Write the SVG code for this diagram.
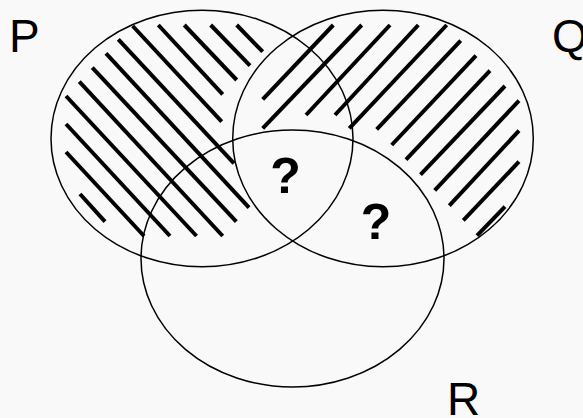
<svg xmlns="http://www.w3.org/2000/svg" width="583" height="418" viewBox="0 0 583 418">
<style>
.set{fill:none;stroke:#000;stroke-width:1.5}
.h{stroke:#000;stroke-width:4;stroke-linecap:butt}
.lbl{font-family:"Liberation Sans",Arial,sans-serif;font-size:46px;fill:#000}
.q{font-family:"Liberation Sans",Arial,sans-serif;font-size:50px;font-weight:bold;fill:#000;text-anchor:middle}
</style>
<rect width="583" height="418" fill="#f9f9f9"/>
<g id="P">
<g class="h">
<line x1="236.7" y1="25" x2="262.7" y2="51.7"/>
<line x1="210.7" y1="25" x2="250" y2="65.7"/>
<line x1="184.3" y1="25" x2="236.7" y2="80"/>
<line x1="158.3" y1="25" x2="222.7" y2="94.3"/>
<line x1="132.7" y1="26" x2="221.7" y2="121.7"/>
<line x1="118.3" y1="39.3" x2="234" y2="163.3"/>
<line x1="106" y1="53.3" x2="249" y2="207.7"/>
<line x1="92.3" y1="67.7" x2="236.3" y2="221.7"/>
<line x1="79.3" y1="81.7" x2="222.7" y2="236"/>
<line x1="66" y1="96" x2="196.5" y2="236"/>
<line x1="66" y1="124" x2="170" y2="236"/>
<line x1="66" y1="152" x2="144" y2="236"/>
<line x1="80" y1="194" x2="105" y2="221.7"/>
</g>
<ellipse class="set" cx="202" cy="138.5" rx="151" ry="128.3"/>
<text class="lbl" x="9" y="51.7">P</text>
</g>
<g id="Q">
<g class="h">
<line x1="333.3" y1="25" x2="262.7" y2="99.3"/>
<line x1="361.7" y1="25" x2="262.7" y2="128.3"/>
<line x1="390" y1="25" x2="306" y2="115"/>
<line x1="418.3" y1="25" x2="335" y2="115"/>
<line x1="446.7" y1="25" x2="349.3" y2="128.3"/>
<line x1="460.7" y1="40.7" x2="376.7" y2="129.3"/>
<line x1="476" y1="55.7" x2="391.7" y2="145"/>
<line x1="490" y1="70.7" x2="406" y2="159.7"/>
<line x1="505" y1="86" x2="420.5" y2="174.7"/>
<line x1="519" y1="100.7" x2="434.7" y2="190.3"/>
<line x1="519" y1="130.7" x2="449.3" y2="205.7"/>
<line x1="519" y1="161.7" x2="463.3" y2="220.3"/>
<line x1="505" y1="206.7" x2="477" y2="235.7"/>
</g>
<ellipse class="set" cx="383" cy="138.5" rx="150.3" ry="128.3"/>
<text class="lbl" x="552" y="51.7">Q</text>
</g>
<g id="R">
<ellipse class="set" cx="292.5" cy="258.5" rx="151.5" ry="128.5"/>
<text class="lbl" x="447" y="415">R</text>
</g>
<g id="PQ">
<text class="q" x="285.5" y="193">?</text>
</g>
<g id="QR">
<text class="q" x="376" y="239">?</text>
</g>
<g id="connectors"/>
</svg>
